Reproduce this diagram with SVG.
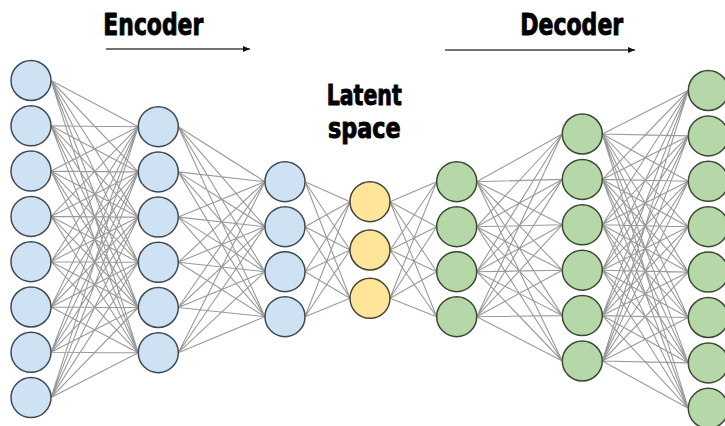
<svg xmlns="http://www.w3.org/2000/svg" width="725" height="426" viewBox="0 0 725 426">
  <style>
    .title { font-family: "Liberation Sans Narrow", "DejaVu Sans Condensed", "Liberation Sans", sans-serif; font-weight: bold; fill: #000; stroke: #000; stroke-width: 0.9; stroke-linejoin: round; text-anchor: middle; }
    .edges path { fill: none; stroke: #9a9a9a; stroke-width: 1.1; }
    .enc circle { fill: #cfe2f3; stroke: #3f4a55; stroke-width: 1.5; }
    .lat circle { fill: #ffe599; stroke: #4a4433; stroke-width: 1.5; }
    .dec circle { fill: #b6d7a8; stroke: #3a4a35; stroke-width: 1.5; }
    .flow { stroke: #444; stroke-width: 1.3; marker-end: url(#head); }
  </style>
  <defs>
    <marker id="head" markerUnits="userSpaceOnUse" markerWidth="8" markerHeight="6" refX="7" refY="3" orient="auto">
      <path d="M0 0L7 3L0 6z" fill="#111"/>
    </marker>
  </defs>
  <rect width="725" height="426" fill="#fff"/>

  <!-- headings -->
  <g id="labels">
    <text class="title" x="153.3" y="35" font-size="30" textLength="100" lengthAdjust="spacingAndGlyphs">Encoder</text>
    <line class="flow" x1="106" y1="49" x2="250" y2="49"/>
    <text class="title" x="571.7" y="35" font-size="30" textLength="103" lengthAdjust="spacingAndGlyphs">Decoder</text>
    <line class="flow" x1="445" y1="50" x2="635" y2="50"/>
    <text class="title" x="364.2" y="105" font-size="28" textLength="75" lengthAdjust="spacingAndGlyphs">Latent</text>
    <text class="title" x="364.3" y="138" font-size="28" textLength="72.7" lengthAdjust="spacingAndGlyphs">space</text>
  </g>

  <!-- fully connected layers -->
  <g id="connectors" class="edges">
    <path d="M51 80.5L138.3 126.7M51 80.5L138.3 171.9M51 80.5L138.3 217.1M51 80.5L138.3 262.3M51 80.5L138.3 307.5M51 80.5L138.3 352.7
             M51 125.8L138.3 126.7M51 125.8L138.3 171.9M51 125.8L138.3 217.1M51 125.8L138.3 262.3M51 125.8L138.3 307.5M51 125.8L138.3 352.7
             M51 171.1L138.3 126.7M51 171.1L138.3 171.9M51 171.1L138.3 217.1M51 171.1L138.3 262.3M51 171.1L138.3 307.5M51 171.1L138.3 352.7
             M51 216.4L138.3 126.7M51 216.4L138.3 171.9M51 216.4L138.3 217.1M51 216.4L138.3 262.3M51 216.4L138.3 307.5M51 216.4L138.3 352.7
             M51 261.7L138.3 126.7M51 261.7L138.3 171.9M51 261.7L138.3 217.1M51 261.7L138.3 262.3M51 261.7L138.3 307.5M51 261.7L138.3 352.7
             M51 307L138.3 126.7M51 307L138.3 171.9M51 307L138.3 217.1M51 307L138.3 262.3M51 307L138.3 307.5M51 307L138.3 352.7
             M51 352.3L138.3 126.7M51 352.3L138.3 171.9M51 352.3L138.3 217.1M51 352.3L138.3 262.3M51 352.3L138.3 307.5M51 352.3L138.3 352.7
             M51 397.6L138.3 126.7M51 397.6L138.3 171.9M51 397.6L138.3 217.1M51 397.6L138.3 262.3M51 397.6L138.3 307.5M51 397.6L138.3 352.7"/>
    <path d="M178.3 126.7L265 181.7M178.3 126.7L265 226.7M178.3 126.7L265 271.7M178.3 126.7L265 316.7
             M178.3 171.9L265 181.7M178.3 171.9L265 226.7M178.3 171.9L265 271.7M178.3 171.9L265 316.7
             M178.3 217.1L265 181.7M178.3 217.1L265 226.7M178.3 217.1L265 271.7M178.3 217.1L265 316.7
             M178.3 262.3L265 181.7M178.3 262.3L265 226.7M178.3 262.3L265 271.7M178.3 262.3L265 316.7
             M178.3 307.5L265 181.7M178.3 307.5L265 226.7M178.3 307.5L265 271.7M178.3 307.5L265 316.7
             M178.3 352.7L265 181.7M178.3 352.7L265 226.7M178.3 352.7L265 271.7M178.3 352.7L265 316.7"/>
    <path d="M305 181.7L350 201.7M305 181.7L350 250M305 181.7L350 298.3
             M305 226.7L350 201.7M305 226.7L350 250M305 226.7L350 298.3
             M305 271.7L350 201.7M305 271.7L350 250M305 271.7L350 298.3
             M305 316.7L350 201.7M305 316.7L350 250M305 316.7L350 298.3"/>
    <path d="M390 201.7L436.7 181.7M390 201.7L436.7 226.7M390 201.7L436.7 271.7M390 201.7L436.7 316.7
             M390 250L436.7 181.7M390 250L436.7 226.7M390 250L436.7 271.7M390 250L436.7 316.7
             M390 298.3L436.7 181.7M390 298.3L436.7 226.7M390 298.3L436.7 271.7M390 298.3L436.7 316.7"/>
    <path d="M476.7 181.7L562.3 134M476.7 181.7L562.3 179.4M476.7 181.7L562.3 224.8M476.7 181.7L562.3 270.2M476.7 181.7L562.3 315.6M476.7 181.7L562.3 361
             M476.7 226.7L562.3 134M476.7 226.7L562.3 179.4M476.7 226.7L562.3 224.8M476.7 226.7L562.3 270.2M476.7 226.7L562.3 315.6M476.7 226.7L562.3 361
             M476.7 271.7L562.3 134M476.7 271.7L562.3 179.4M476.7 271.7L562.3 224.8M476.7 271.7L562.3 270.2M476.7 271.7L562.3 315.6M476.7 271.7L562.3 361
             M476.7 316.7L562.3 134M476.7 316.7L562.3 179.4M476.7 316.7L562.3 224.8M476.7 316.7L562.3 270.2M476.7 316.7L562.3 315.6M476.7 316.7L562.3 361"/>
    <path d="M602.3 134L688.3 90.5M602.3 134L688.3 135.9M602.3 134L688.3 181.3M602.3 134L688.3 226.7M602.3 134L688.3 272.1M602.3 134L688.3 317.5M602.3 134L688.3 362.9M602.3 134L688.3 408.3
             M602.3 179.4L688.3 90.5M602.3 179.4L688.3 135.9M602.3 179.4L688.3 181.3M602.3 179.4L688.3 226.7M602.3 179.4L688.3 272.1M602.3 179.4L688.3 317.5M602.3 179.4L688.3 362.9M602.3 179.4L688.3 408.3
             M602.3 224.8L688.3 90.5M602.3 224.8L688.3 135.9M602.3 224.8L688.3 181.3M602.3 224.8L688.3 226.7M602.3 224.8L688.3 272.1M602.3 224.8L688.3 317.5M602.3 224.8L688.3 362.9M602.3 224.8L688.3 408.3
             M602.3 270.2L688.3 90.5M602.3 270.2L688.3 135.9M602.3 270.2L688.3 181.3M602.3 270.2L688.3 226.7M602.3 270.2L688.3 272.1M602.3 270.2L688.3 317.5M602.3 270.2L688.3 362.9M602.3 270.2L688.3 408.3
             M602.3 315.6L688.3 90.5M602.3 315.6L688.3 135.9M602.3 315.6L688.3 181.3M602.3 315.6L688.3 226.7M602.3 315.6L688.3 272.1M602.3 315.6L688.3 317.5M602.3 315.6L688.3 362.9M602.3 315.6L688.3 408.3
             M602.3 361L688.3 90.5M602.3 361L688.3 135.9M602.3 361L688.3 181.3M602.3 361L688.3 226.7M602.3 361L688.3 272.1M602.3 361L688.3 317.5M602.3 361L688.3 362.9M602.3 361L688.3 408.3"/>
  </g>

  <!-- encoder input layer -->
  <g class="enc">
    <g id="in1"><circle cx="31" cy="80.5" r="20"/></g>
    <g id="in2"><circle cx="31" cy="125.8" r="20"/></g>
    <g id="in3"><circle cx="31" cy="171.1" r="20"/></g>
    <g id="in4"><circle cx="31" cy="216.4" r="20"/></g>
    <g id="in5"><circle cx="31" cy="261.7" r="20"/></g>
    <g id="in6"><circle cx="31" cy="307" r="20"/></g>
    <g id="in7"><circle cx="31" cy="352.3" r="20"/></g>
    <g id="in8"><circle cx="31" cy="397.6" r="20"/></g>
    <!-- encoder hidden layer 1 -->
    <g id="enc1a"><circle cx="158.3" cy="126.7" r="20"/></g>
    <g id="enc1b"><circle cx="158.3" cy="171.9" r="20"/></g>
    <g id="enc1c"><circle cx="158.3" cy="217.1" r="20"/></g>
    <g id="enc1d"><circle cx="158.3" cy="262.3" r="20"/></g>
    <g id="enc1e"><circle cx="158.3" cy="307.5" r="20"/></g>
    <g id="enc1f"><circle cx="158.3" cy="352.7" r="20"/></g>
    <!-- encoder hidden layer 2 -->
    <g id="enc2a"><circle cx="285" cy="181.7" r="20"/></g>
    <g id="enc2b"><circle cx="285" cy="226.7" r="20"/></g>
    <g id="enc2c"><circle cx="285" cy="271.7" r="20"/></g>
    <g id="enc2d"><circle cx="285" cy="316.7" r="20"/></g>
  </g>

  <!-- bottleneck -->
  <g class="lat">
    <g id="z1"><circle cx="370" cy="201.7" r="20"/></g>
    <g id="z2"><circle cx="370" cy="250" r="20"/></g>
    <g id="z3"><circle cx="370" cy="298.3" r="20"/></g>
  </g>

  <!-- decoder layers -->
  <g class="dec">
    <g id="dec1a"><circle cx="456.7" cy="181.7" r="20"/></g>
    <g id="dec1b"><circle cx="456.7" cy="226.7" r="20"/></g>
    <g id="dec1c"><circle cx="456.7" cy="271.7" r="20"/></g>
    <g id="dec1d"><circle cx="456.7" cy="316.7" r="20"/></g>
    <g id="dec2a"><circle cx="582.3" cy="134" r="20"/></g>
    <g id="dec2b"><circle cx="582.3" cy="179.4" r="20"/></g>
    <g id="dec2c"><circle cx="582.3" cy="224.8" r="20"/></g>
    <g id="dec2d"><circle cx="582.3" cy="270.2" r="20"/></g>
    <g id="dec2e"><circle cx="582.3" cy="315.6" r="20"/></g>
    <g id="dec2f"><circle cx="582.3" cy="361" r="20"/></g>
    <g id="out1"><circle cx="708.3" cy="90.5" r="20"/></g>
    <g id="out2"><circle cx="708.3" cy="135.9" r="20"/></g>
    <g id="out3"><circle cx="708.3" cy="181.3" r="20"/></g>
    <g id="out4"><circle cx="708.3" cy="226.7" r="20"/></g>
    <g id="out5"><circle cx="708.3" cy="272.1" r="20"/></g>
    <g id="out6"><circle cx="708.3" cy="317.5" r="20"/></g>
    <g id="out7"><circle cx="708.3" cy="362.9" r="20"/></g>
    <g id="out8"><circle cx="708.3" cy="408.3" r="20"/></g>
  </g>
</svg>
